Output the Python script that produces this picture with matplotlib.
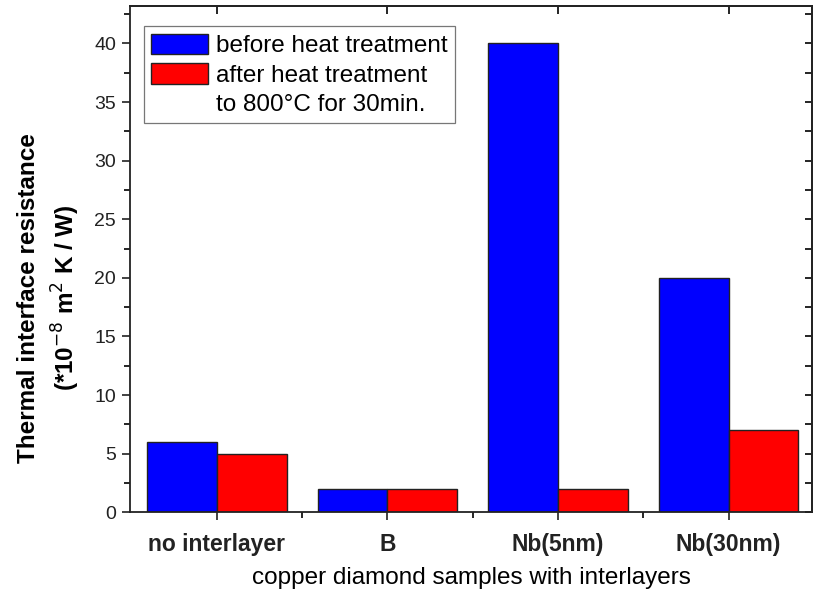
import numpy as np
import matplotlib.pyplot as plt
from matplotlib.patches import Patch
from matplotlib.ticker import MultipleLocator, FixedLocator

plt.rcParams['font.family'] = ['Liberation Sans', 'DejaVu Sans']

# thermal interface resistance per interlayer
samples = ['no interlayer', 'B', 'Nb(5nm)', 'Nb(30nm)']
before = [6, 2, 40, 20]
after = [5, 2, 2, 7]

x = np.arange(len(samples))
w = 0.41

fig = plt.figure(figsize=(8.17, 5.97), dpi=100)
ax = fig.add_axes([0.159, 0.142, 0.835, 0.848])

ax.bar(x - w/2, before, w, color='#0000ff', edgecolor='#222222', linewidth=1)
ax.bar(x + w/2, after, w, color='#ff0000', edgecolor='#222222', linewidth=1)

ax.set_xlim(-0.51, 3.49)
ax.set_ylim(0, 43.2)
ax.set_xticks(x)
ax.set_xticklabels(samples, fontsize=16.5, fontweight='bold')
ax.xaxis.set_minor_locator(FixedLocator(x[:-1] + 0.5))
ax.yaxis.set_major_locator(MultipleLocator(5))
ax.yaxis.set_minor_locator(MultipleLocator(2.5))
ax.tick_params(axis='y', which='major', direction='out', length=6, width=1.2,
               labelsize=14, colors='#222222', right=False, pad=4)
ax.tick_params(axis='y', which='minor', direction='out', length=4, width=1.2)
ax.tick_params(axis='x', which='major', direction='out', length=6, width=1.2,
               colors='#222222', pad=9)
ax.tick_params(axis='x', which='minor', direction='out', length=4, width=1.2)

# inward ticks on the top and right frame
top = ax.secondary_xaxis('top')
top.set_xticks(x)
top.tick_params(direction='in', length=6, width=1.2, labeltop=False)
right = ax.secondary_yaxis('right')
right.set_yticks(np.arange(0, 43, 2.5))
right.tick_params(direction='in', length=5, width=1.2, labelright=False)
for a in (ax, top, right):
    for s in a.spines.values():
        s.set_linewidth(1.3)
        s.set_color('#222222')

ax.set_ylabel('Thermal interface resistance\n(*10$^{-8}$ m$^{2}$ K / W)',
              fontsize=17.5, fontweight='bold', linespacing=1.4)
ax.yaxis.set_label_coords(-0.07, 0.423)
ax.set_xlabel('copper diamond samples with interlayers', fontsize=17.5, labelpad=8)

# legend: the second line of the red label sits without a swatch
handles = [Patch(facecolor='#0000ff', edgecolor='#222222'),
           Patch(facecolor='#ff0000', edgecolor='#222222'),
           Patch(facecolor='none', edgecolor='none')]
labels = ['before heat treatment', 'after heat treatment', 'to 800°C for 30min.']
leg = ax.legend(handles, labels, loc='upper left', bbox_to_anchor=(0.02, 0.96),
                borderaxespad=0, fontsize=17.5, frameon=True, fancybox=False,
                edgecolor='#555555', handlelength=2.35, handleheight=0.95,
                handletextpad=0.35, borderpad=0.3, labelspacing=0.22)
leg.get_frame().set_linewidth(0.9)

fig.savefig('out.png', dpi=100)
